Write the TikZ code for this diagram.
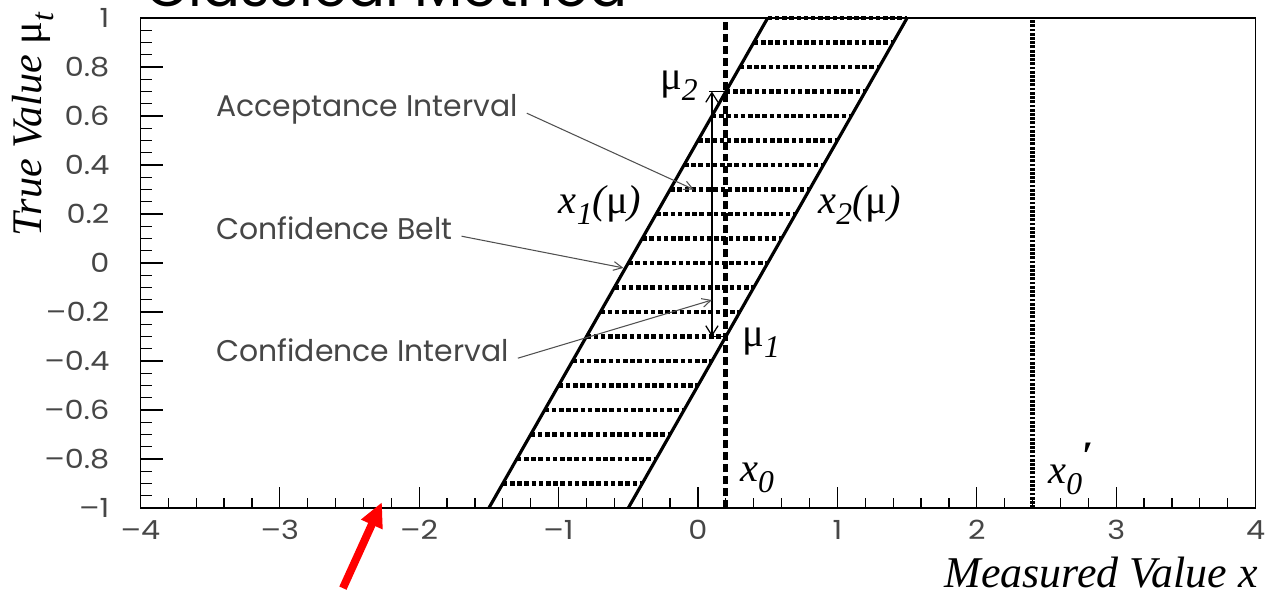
\documentclass[tikz,border=0pt]{standalone}
\usepackage{fontspec}
\setsansfont{Poppins}
\newfontfamily\rootserif{Liberation Serif}
\newfontfamily\tickfont{Poppins}[FakeStretch=1.15]
\usetikzlibrary{arrows.meta}
\definecolor{cText}{RGB}{70,70,70}
\definecolor{cNote}{RGB}{80,80,80}
\definecolor{cRed}{RGB}{255,0,0}
\newcommand{\lowsub}[1]{\raisebox{-0.28em}{\fontsize{18}{18}\selectfont #1}}
\tikzset{
  frame/.style={line width=0.9pt},
  tickmark/.style={line width=0.7pt},
  ylab/.style={anchor=east,inner sep=0pt,text=cText,font=\tickfont\fontsize{15}{15}\selectfont},
  xlab/.style={anchor=north,inner sep=0pt,text=cText,font=\tickfont\fontsize{15}{15}\selectfont},
  belt/.style={line width=1.8pt},
  row/.style={line width=2.4pt,dash pattern=on 2.6pt off 1.5pt},
  xnought/.style={line width=2.8pt,dash pattern=on 4.5pt off 2.3pt},
  xprime/.style={line width=2.6pt,dash pattern=on 1.6pt off 0.8pt},
  note/.style={anchor=base west,inner xsep=5pt,inner ysep=0pt,text=cText,font=\sffamily\fontsize{17}{17}\selectfont},
  notearrow/.style={cNote,line width=0.6pt,-{Straight Barb[length=5pt,width=5pt]}},
  interval/.style={line width=0.7pt,{Straight Barb[length=5.5pt,width=7pt]}-{Straight Barb[length=5.5pt,width=7pt]}},
  symb/.style={anchor=base west,inner sep=0pt,font=\rootserif\itshape\fontsize{23}{23}\selectfont},
  redarrow/.style={cRed,line width=4.5pt,-{Triangle[length=14pt,width=12.5pt]}}
}

\begin{document}
\begin{tikzpicture}[x=2.788cm,y=4.9cm]
\useasboundingbox (-5.007,-1.359) rectangle (4.089,1.0735);
\node[anchor=base west,inner sep=0pt,font=\sffamily\fontsize{32}{32}\selectfont] (title) at (-3.967,1.045) {Classical Method};
% belt rows
\draw[row] (-1.4,-0.9) -- (-0.4,-0.9);
\draw[row] (-1.3,-0.8) -- (-0.3,-0.8);
\draw[row] (-1.2,-0.7) -- (-0.2,-0.7);
\draw[row] (-1.1,-0.6) -- (-0.1,-0.6);
\draw[row] (-1.0,-0.5) -- (0.0,-0.5);
\draw[row] (-0.9,-0.4) -- (0.1,-0.4);
\draw[row] (-0.8,-0.3) -- (0.2,-0.3);
\draw[row] (-0.7,-0.2) -- (0.3,-0.2);
\draw[row] (-0.6,-0.1) -- (0.4,-0.1);
\draw[row] (-0.5,0.0) -- (0.5,0.0);
\draw[row] (-0.4,0.1) -- (0.6,0.1);
\draw[row] (-0.3,0.2) -- (0.7,0.2);
\draw[row] (-0.2,0.3) -- (0.8,0.3);
\draw[row] (-0.1,0.4) -- (0.9,0.4);
\draw[row] (0.0,0.5) -- (1.0,0.5);
\draw[row] (0.1,0.6) -- (1.1,0.6);
\draw[row] (0.2,0.7) -- (1.2,0.7);
\draw[row] (0.3,0.8) -- (1.3,0.8);
\draw[row] (0.4,0.9) -- (1.4,0.9);
\draw[row] (0.5,1.0) -- (1.5,1.0);
% belt edges
\draw[belt] (-1.5,-1) -- (0.5,1);
\draw[belt] (-0.5,-1) -- (1.5,1);
\draw[xnought] (0.2,-1) -- (0.2,1);
\draw[xprime] (2.4,-1) -- (2.4,1);
% frame and ticks
\draw[frame] (-4,-1) rectangle (4,1);
\draw[tickmark] (-4,1) -- ++(0.165,0);
\node[ylab] (y10) at (-4.22,1) {1};
\draw[tickmark] (-4,0.8) -- ++(0.165,0);
\node[ylab] (y08) at (-4.22,0.8) {0.8};
\draw[tickmark] (-4,0.6) -- ++(0.165,0);
\node[ylab] (y06) at (-4.22,0.6) {0.6};
\draw[tickmark] (-4,0.4) -- ++(0.165,0);
\node[ylab] (y04) at (-4.22,0.4) {0.4};
\draw[tickmark] (-4,0.2) -- ++(0.165,0);
\node[ylab] (y02) at (-4.22,0.2) {0.2};
\draw[tickmark] (-4,0) -- ++(0.165,0);
\node[ylab] (y00) at (-4.22,0) {0};
\draw[tickmark] (-4,-0.2) -- ++(0.165,0);
\node[ylab] (ym02) at (-4.22,-0.2) {–0.2};
\draw[tickmark] (-4,-0.4) -- ++(0.165,0);
\node[ylab] (ym04) at (-4.22,-0.4) {–0.4};
\draw[tickmark] (-4,-0.6) -- ++(0.165,0);
\node[ylab] (ym06) at (-4.22,-0.6) {–0.6};
\draw[tickmark] (-4,-0.8) -- ++(0.165,0);
\node[ylab] (ym08) at (-4.22,-0.8) {–0.8};
\node[ylab] (ym10) at (-4.22,-1) {–1};
\draw[tickmark] (-4,0.95)--++(0.086,0) (-4,0.9)--++(0.086,0) (-4,0.85)--++(0.086,0)
  (-4,0.75)--++(0.086,0) (-4,0.7)--++(0.086,0) (-4,0.65)--++(0.086,0)
  (-4,0.55)--++(0.086,0) (-4,0.5)--++(0.086,0) (-4,0.45)--++(0.086,0)
  (-4,0.35)--++(0.086,0) (-4,0.3)--++(0.086,0) (-4,0.25)--++(0.086,0)
  (-4,0.15)--++(0.086,0) (-4,0.1)--++(0.086,0) (-4,0.05)--++(0.086,0)
  (-4,-0.05)--++(0.086,0) (-4,-0.1)--++(0.086,0) (-4,-0.15)--++(0.086,0)
  (-4,-0.25)--++(0.086,0) (-4,-0.3)--++(0.086,0) (-4,-0.35)--++(0.086,0)
  (-4,-0.45)--++(0.086,0) (-4,-0.5)--++(0.086,0) (-4,-0.55)--++(0.086,0)
  (-4,-0.65)--++(0.086,0) (-4,-0.7)--++(0.086,0) (-4,-0.75)--++(0.086,0)
  (-4,-0.85)--++(0.086,0) (-4,-0.9)--++(0.086,0) (-4,-0.95)--++(0.086,0);
\node[xlab] (xm4) at (-4,-1.048) {–4};
\draw[tickmark] (-3,-1) -- ++(0,0.0857);
\node[xlab] (xm3) at (-3,-1.048) {–3};
\draw[tickmark] (-2,-1) -- ++(0,0.0857);
\node[xlab] (xm2) at (-2,-1.048) {–2};
\draw[tickmark] (-1,-1) -- ++(0,0.0857);
\node[xlab] (xm1) at (-1,-1.048) {–1};
\draw[tickmark] (0,-1) -- ++(0,0.0857);
\node[xlab] (x0) at (0,-1.048) {0};
\draw[tickmark] (1,-1) -- ++(0,0.0857);
\node[xlab] (x1) at (1,-1.048) {1};
\draw[tickmark] (2,-1) -- ++(0,0.0857);
\node[xlab] (x2) at (2,-1.048) {2};
\draw[tickmark] (3,-1) -- ++(0,0.0857);
\node[xlab] (x3) at (3,-1.048) {3};
\node[xlab] (x4) at (4,-1.048) {4};
\draw[tickmark] (-3.8,-1)--++(0,0.041) (-3.6,-1)--++(0,0.041) (-3.4,-1)--++(0,0.041) (-3.2,-1)--++(0,0.041)
  (-2.8,-1)--++(0,0.041) (-2.6,-1)--++(0,0.041) (-2.4,-1)--++(0,0.041) (-2.2,-1)--++(0,0.041)
  (-1.8,-1)--++(0,0.041) (-1.6,-1)--++(0,0.041) (-1.4,-1)--++(0,0.041) (-1.2,-1)--++(0,0.041)
  (-0.8,-1)--++(0,0.041) (-0.6,-1)--++(0,0.041) (-0.4,-1)--++(0,0.041) (-0.2,-1)--++(0,0.041)
  (0.2,-1)--++(0,0.041) (0.4,-1)--++(0,0.041) (0.6,-1)--++(0,0.041) (0.8,-1)--++(0,0.041)
  (1.2,-1)--++(0,0.041) (1.4,-1)--++(0,0.041) (1.6,-1)--++(0,0.041) (1.8,-1)--++(0,0.041)
  (2.2,-1)--++(0,0.041) (2.4,-1)--++(0,0.041) (2.6,-1)--++(0,0.041) (2.8,-1)--++(0,0.041)
  (3.2,-1)--++(0,0.041) (3.4,-1)--++(0,0.041) (3.6,-1)--++(0,0.041) (3.8,-1)--++(0,0.041);
% axis titles
\node[symb,rotate=90,font=\rootserif\itshape\fontsize{24}{24}\selectfont] (ytitle) at (-4.706,0.108) {True Value {\upshape μ}\lowsub{t}};
\node[symb,anchor=base east,font=\rootserif\itshape\fontsize{25}{25}\selectfont] (xtitle) at (4.017,-1.325) {Measured Value x};
% curve and point labels
\node[symb] (x1mu) at (-1.0,0.204) {x\lowsub{1}({\upshape μ})};
\node[symb] (x2mu) at (0.861,0.204) {x\lowsub{2}({\upshape μ})};
\node[symb] (mu2) at (-0.273,0.71) {{\upshape μ}\lowsub{2}};
\node[symb] (mu1) at (0.316,-0.339) {{\upshape μ}\lowsub{1}};
\node[symb] (xzero) at (0.301,-0.89) {x\lowsub{0}};
\node[symb] (xzerop) at (2.511,-0.90) {x\lowsub{0}\raisebox{0.35em}{\upshape\bfseries ʹ}};
% confidence interval
\coordinate (muTop) at (0.1,0.7);
\coordinate (muBot) at (0.1,-0.3);
\draw[line width=0.7pt] (0.08,0.7) -- (0.2,0.7);
\draw[line width=0.7pt] (0.1,-0.3) -- (0.2,-0.3);
\draw[interval] (muBot) -- (muTop);
% notes
\node[note] (lblAcc) at (-3.52,0.596) {Acceptance Interval};
\node[note] (lblBelt) at (-3.52,0.094) {Confidence Belt};
\node[note] (lblInt) at (-3.52,-0.404) {Confidence Interval};
\coordinate (tipAcc) at (-0.03,0.3);
\coordinate (tipBelt) at (-0.535,-0.02);
\coordinate (tipInt) at (0.1,-0.151);
\draw[notearrow] (lblAcc.mid east) -- (tipAcc);
\draw[notearrow] (lblBelt.mid east) -- (tipBelt);
\draw[notearrow] (lblInt.mid east) -- (tipInt);
% red pointer
\coordinate (redTail) at (-2.547,-1.327);
\coordinate (redTip) at (-2.267,-0.976);
\draw[redarrow] (redTail) -- (redTip);
\end{tikzpicture}
\end{document}
